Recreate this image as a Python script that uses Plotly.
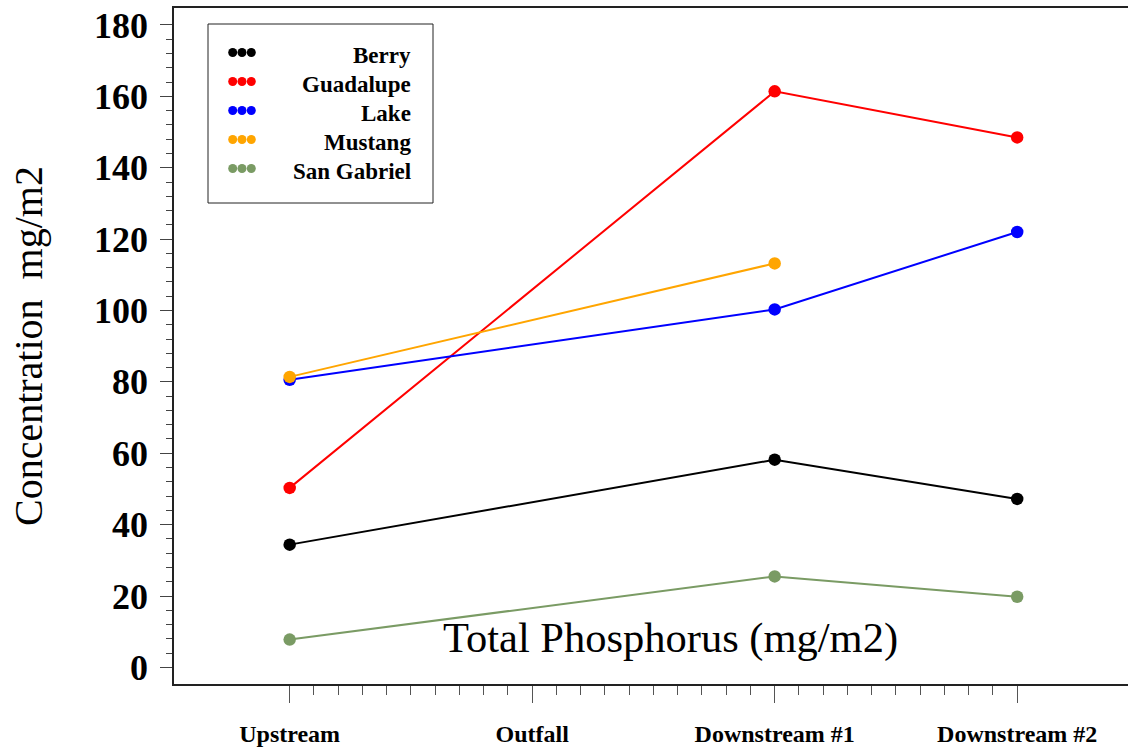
import numpy as np
import plotly.graph_objects as go

categories = ["Upstream", "Outfall", "Downstream #1", "Downstream #2"]
series_names = ["Berry", "Guadalupe", "Lake", "Mustang", "San Gabriel"]
berry = [34.4, None, 58.2, 47.2]
guadalupe = [50.3, None, 161.4, 148.5]
lake = [80.6, None, 100.3, 122.0]
mustang = [81.4, None, 113.2, None]
san_gabriel = [7.8, None, 25.5, 19.8]
colors = ["#000000", "#ff0000", "#0000ff", "#ffa500", "#7a9b64"]
y_ticks = list(range(0, 181, 20))

series = [berry, guadalupe, lake, mustang, san_gabriel]
FONT = "Liberation Serif"

W, H = 1128, 751
ML, MT, MB, MR = 174, 8, 67, 0
PW, PH = W - ML - MR, H - MT - MB

def px_x(px):
    return (px - ML) / PW

def px_y(py):
    return (H - MB - py) / PH

fig = go.Figure()
xpos = list(range(len(categories)))
for name, vals, c in zip(series_names, series, colors):
    fig.add_trace(go.Scatter(
        x=xpos, y=vals, mode="lines+markers", name=name,
        line=dict(color=c, width=2), marker=dict(color=c, size=12.5),
        connectgaps=True, showlegend=False, cliponaxis=False,
    ))

# custom legend (three dots + right-aligned names)
leg_left, leg_right, leg_top, leg_bottom = 208, 433, 24, 203
row0, row_step = 52.5, 29.0
dot_x = [232.7, 242.0, 251.3]
for i, (name, c) in enumerate(zip(series_names, colors)):
    ry = row0 + i * row_step
    fig.add_trace(go.Scatter(
        x=[px_x(d) for d in dot_x], y=[px_y(ry)] * 3, mode="markers",
        marker=dict(color=c, size=9), xaxis="x2", yaxis="y2",
        showlegend=False, hoverinfo="skip",
    ))
    fig.add_annotation(
        x=px_x(413), y=px_y(ry + 3), xref="paper", yref="paper",
        text="<b>%s</b>" % name, showarrow=False, xanchor="right", yanchor="middle",
        font=dict(family=FONT, size=23, color="black"),
    )
fig.add_shape(type="rect", xref="paper", yref="paper",
              x0=px_x(leg_left), x1=px_x(leg_right),
              y0=px_y(leg_bottom), y1=px_y(leg_top),
              line=dict(color="#222222", width=1))

# chart title inside plot & y title
fig.add_annotation(x=px_x(670), y=px_y(638), xref="paper", yref="paper",
                   text="Total Phosphorus (mg/m2)", showarrow=False,
                   xanchor="center", yanchor="middle",
                   font=dict(family=FONT, size=42.5, color="black"))
fig.add_annotation(x=px_x(28), y=px_y(346), xref="paper", yref="paper",
                   text="Concentration  mg/m2", showarrow=False, textangle=-90,
                   xanchor="center", yanchor="middle",
                   font=dict(family=FONT, size=40, color="black"))

x_minor = [v for v in np.round(np.arange(0, 3.0001, 0.1), 2) if abs(v - round(v)) > 1e-6]
y_minor = [v for v in range(0, 181, 4) if v % 20 != 0]

fig.update_layout(
    width=W, height=H,
    margin=dict(l=ML, r=MR, t=MT, b=MB, autoexpand=False),
    paper_bgcolor="white", plot_bgcolor="white",
    xaxis=dict(
        range=[-0.477, 3.457], tickmode="array", tickvals=xpos,
        ticktext=["<b>%s</b>" % c for c in categories],
        ticks="outside", ticklen=17, tickwidth=1, tickcolor="#555555",
        showgrid=False, zeroline=False, showline=True, linecolor="#222222",
        linewidth=1.5, mirror=True, ticklabelstandoff=10, automargin=False,
        tickfont=dict(family=FONT, size=24, color="black"),
        minor=dict(tickmode="array", tickvals=x_minor, ticks="outside",
                   ticklen=9, tickwidth=1, tickcolor="#555555", showgrid=False),
    ),
    yaxis=dict(
        range=[-4.65, 184.76], tickmode="array", tickvals=y_ticks,
        ticktext=["<b>%d</b>" % v for v in y_ticks],
        ticks="outside", ticklen=12, tickwidth=1, tickcolor="#444444",
        showgrid=False, zeroline=False, showline=True, linecolor="#222222",
        linewidth=1.5, mirror=False, ticklabelstandoff=5, automargin=False,
        tickfont=dict(family=FONT, size=36, color="black"),
        minor=dict(tickmode="array", tickvals=y_minor, ticks="outside",
                   ticklen=6, tickwidth=1, tickcolor="#444444", showgrid=False),
    ),
    xaxis2=dict(domain=[0, 1], range=[0, 1], overlaying="x", visible=False, fixedrange=True),
    yaxis2=dict(domain=[0, 1], range=[0, 1], overlaying="y", visible=False, fixedrange=True),
)

fig.write_html("out.html")
